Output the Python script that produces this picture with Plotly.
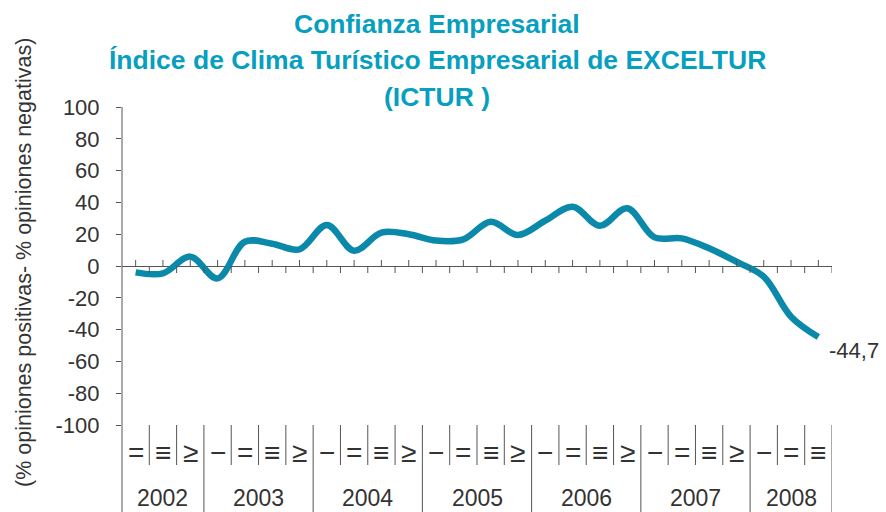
import plotly.graph_objects as go

years = ["2002", "2003", "2004", "2005", "2006", "2007", "2008"]
quarters_per_year = [3, 4, 4, 4, 4, 4, 3]
quarter_labels = ["=", "≡", "≥",
                  "−", "=", "≡", "≥",
                  "−", "=", "≡", "≥",
                  "−", "=", "≡", "≥",
                  "−", "=", "≡", "≥",
                  "−", "=", "≡", "≥",
                  "−", "=", "≡"]
ictur = [-4.0, -4.6, 5.9, -7.8,
         15.3, 14.0, 10.5, 25.8,
         9.6, 21.0, 20.0, 16.0,
         16.8, 27.8, 19.5, 28.5,
         37.3, 25.3, 36.3, 18.0,
         17.4, 11.1, 2.7, -6.7,
         -31.9, -44.7]
last_label = "-44,7"
y_ticks = [100, 80, 60, 40, 20, 0, -20, -40, -60, -80, -100]

TITLE_COLOR = "#079fc0"
LINE_COLOR = "#0a89aa"
TEXT_COLOR = "#333333"
AXIS_COLOR = "#555555"
FONT = "Liberation Sans, Arial, sans-serif"

n = len(ictur)
xs = list(range(n))

fig = go.Figure()
fig.add_trace(go.Scatter(
    x=xs, y=ictur, mode="lines",
    line=dict(color=LINE_COLOR, width=6.5, shape="spline", smoothing=1.0),
    hoverinfo="skip", showlegend=False,
))

L, R, T, B = 122, 54, 107, 87
W, H = 886, 512
ph = H - T - B
pw = W - L - R

def py(pix):
    return (H - B - pix) / ph

shapes = []
for i in xs:
    shapes.append(dict(type="line", xref="x", yref="y", ysizemode="pixel", yanchor=0,
                       x0=i, x1=i, y0=0, y1=6, line=dict(color=AXIS_COLOR, width=1)))
    shapes.append(dict(type="line", xref="x", yref="y", ysizemode="pixel", yanchor=0,
                       x0=i + 0.5, x1=i + 0.5, y0=-7, y1=0, line=dict(color=AXIS_COLOR, width=1)))

year_bounds = []
c = 0
for q in quarters_per_year:
    c += q
    year_bounds.append(c)
for b in range(1, n + 1):
    is_year = b in year_bounds
    shapes.append(dict(type="line", xref="x", yref="paper",
                       x0=b - 0.5, x1=b - 0.5, y0=0, y1=py(512 if is_year else 465),
                       line=dict(color=AXIS_COLOR, width=1)))
shapes.append(dict(type="line", xref="paper", yref="paper", x0=0, x1=0, y0=1, y1=py(512),
                   line=dict(color=AXIS_COLOR, width=1)))

annotations = []
for i, lab in enumerate(quarter_labels):
    annotations.append(dict(x=i, y=py(452), xref="x", yref="paper", text=lab, showarrow=False,
                            font=dict(size=28, color=TEXT_COLOR, family=FONT),
                            xanchor="center", yanchor="middle"))
start = 0
for yr, q in zip(years, quarters_per_year):
    annotations.append(dict(x=start + (q - 1) / 2, y=py(498), xref="x", yref="paper", text=yr,
                            showarrow=False, font=dict(size=23, color=TEXT_COLOR, family=FONT),
                            xanchor="center", yanchor="middle"))
    start += q

annotations.append(dict(x=n - 1, y=ictur[-1], xref="x", yref="y", text=last_label, showarrow=False,
                        xanchor="left", yanchor="middle", xshift=9, yshift=-13,
                        font=dict(size=22, color=TEXT_COLOR, family=FONT)))

title_lines = ["Confianza Empresarial",
               "Índice de Clima Turístico Empresarial de EXCELTUR",
               "(ICTUR )"]
for line, pix in zip(title_lines, [24, 60, 97]):
    annotations.append(dict(x=(437 - L) / pw, y=py(pix), xref="paper", yref="paper", text="<b>" + line + "</b>",
                            showarrow=False, xanchor="center", yanchor="middle",
                            font=dict(size=26.5, color=TITLE_COLOR, family=FONT)))

annotations.append(dict(x=(24 - L) / pw, y=py(263), xref="paper", yref="paper",
                        text="(% opiniones positivas- % opiniones negativas)", textangle=-90,
                        showarrow=False, xanchor="center", yanchor="middle",
                        font=dict(size=21.5, color=TEXT_COLOR, family=FONT)))

fig.update_layout(
    width=W, height=H,
    margin=dict(l=L, r=R, t=T, b=B),
    paper_bgcolor="white", plot_bgcolor="white",
    shapes=shapes, annotations=annotations,
    xaxis=dict(range=[-0.5, n - 0.5], showgrid=False, zeroline=False, showticklabels=False,
               showline=False, ticks=""),
    yaxis=dict(range=[-100, 100], tickvals=y_ticks, ticktext=[str(v) for v in y_ticks],
               showgrid=False, zeroline=True, zerolinecolor=AXIS_COLOR, zerolinewidth=1,
               showline=False, ticks="outside", ticklen=5, tickcolor=AXIS_COLOR,
               ticklabelstandoff=12,
               tickfont=dict(size=22, color=TEXT_COLOR, family=FONT)),
    showlegend=False,
)

fig.write_html("out.html", config={"displayModeBar": False},
               post_script="document.body.style.margin='0';document.body.style.overflow='hidden';")
